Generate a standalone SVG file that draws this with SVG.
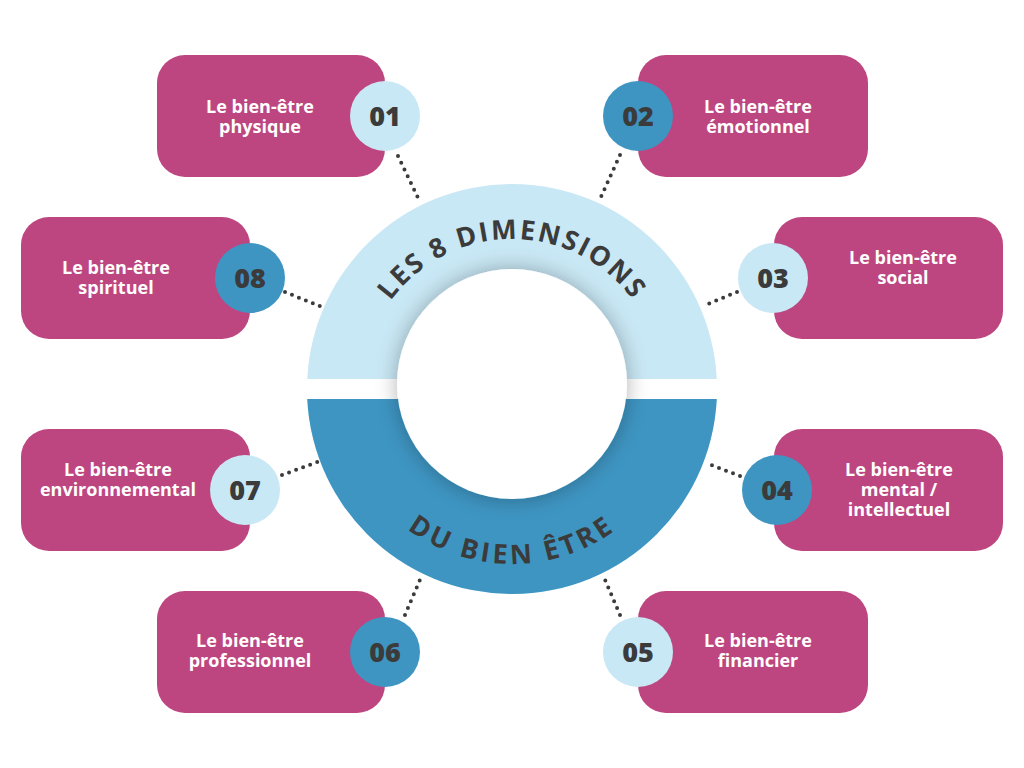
<svg xmlns="http://www.w3.org/2000/svg" width="1024" height="768" viewBox="0 0 1024 768">
<defs>
<style>
.box{fill:#BD4680}
.lt{fill:#C9E8F5}
.dk{fill:#3E95C2}
.lbl{font-family:"Open Sans","Liberation Sans",sans-serif;font-weight:700;font-size:18px;fill:#FFFFFF;text-anchor:middle}
.num{font-family:"Open Sans","Liberation Sans",sans-serif;font-weight:800;font-size:27px;fill:#3B3B3B;text-anchor:middle}
.arc{font-family:"Open Sans","Liberation Sans",sans-serif;font-weight:700;font-size:27px;fill:#3B3B3B}
.dot{fill:none;stroke:#3B3B3B;stroke-width:4;stroke-linecap:round;stroke-dasharray:0 7.5}
</style>
<filter id="sh" x="-30%" y="-30%" width="160%" height="160%">
<feGaussianBlur in="SourceAlpha" stdDeviation="11"/>
<feComponentTransfer><feFuncA type="linear" slope="0.3"/></feComponentTransfer>
<feMerge><feMergeNode/><feMergeNode in="SourceGraphic"/></feMerge>
</filter>
<path id="topArc" d="M 362,389 A 150,150 0 0,1 662,389"/>
<path id="botArc" d="M 337,389 A 175,175 0 0,0 687,389"/>
</defs>
<rect width="1024" height="768" fill="#FFFFFF"/>

<g id="connectors">
<line class="dot" x1="398" y1="156" x2="419" y2="200"/>
<line class="dot" x1="620" y1="155" x2="600" y2="199"/>
<line class="dot" x1="737" y1="292" x2="703" y2="306"/>
<line class="dot" x1="740" y1="476" x2="706" y2="463"/>
<line class="dot" x1="285" y1="292" x2="322" y2="307"/>
<line class="dot" x1="282" y1="475" x2="320" y2="461"/>
<line class="dot" x1="405" y1="615" x2="422" y2="575"/>
<line class="dot" x1="620" y1="615" x2="603" y2="575"/>
</g>

<g id="center">
<circle class="lt" cx="512" cy="389" r="205"/>
<path class="dk" d="M 307,389 A 205,205 0 0,0 717,389 Z"/>
<rect x="300" y="379" width="424" height="20" fill="#FFFFFF"/>
<circle cx="512" cy="384" r="115" fill="#FFFFFF" filter="url(#sh)"/>
<text class="arc" letter-spacing="2.2"><textPath href="#topArc" startOffset="50%" text-anchor="middle">LES 8 DIMENSIONS</textPath></text>
<text class="arc" letter-spacing="3.5"><textPath href="#botArc" startOffset="50%" text-anchor="middle">DU BIEN ÊTRE</textPath></text>
</g>

<g id="node1">
<rect class="box" x="157" y="55" width="228" height="122" rx="28"/>
<circle class="lt" cx="385" cy="116" r="35"/>
<text class="lbl" x="260" y="113">Le bien-être</text>
<text class="lbl" x="260" y="133">physique</text>
<text class="num" x="385" y="126">01</text>
</g>

<g id="node2">
<rect class="box" x="638" y="55" width="230" height="122" rx="28"/>
<circle class="dk" cx="638" cy="116" r="35"/>
<text class="lbl" x="758" y="113">Le bien-être</text>
<text class="lbl" x="758" y="133">émotionnel</text>
<text class="num" x="638" y="126">02</text>
</g>

<g id="node3">
<rect class="box" x="774" y="217" width="229" height="122" rx="28"/>
<circle class="lt" cx="773" cy="278" r="35"/>
<text class="lbl" x="903" y="264">Le bien-être</text>
<text class="lbl" x="903" y="284">social</text>
<text class="num" x="773" y="288">03</text>
</g>

<g id="node4">
<rect class="box" x="774" y="429" width="229" height="122" rx="28"/>
<circle class="dk" cx="777" cy="490" r="35"/>
<text class="lbl" x="899" y="476">Le bien-être</text>
<text class="lbl" x="899" y="496">mental /</text>
<text class="lbl" x="899" y="516">intellectuel</text>
<text class="num" x="777" y="500">04</text>
</g>

<g id="node5">
<rect class="box" x="638" y="591" width="230" height="122" rx="28"/>
<circle class="lt" cx="638" cy="652" r="35"/>
<text class="lbl" x="758" y="647">Le bien-être</text>
<text class="lbl" x="758" y="667">financier</text>
<text class="num" x="638" y="662">05</text>
</g>

<g id="node6">
<rect class="box" x="157" y="591" width="228" height="122" rx="28"/>
<circle class="dk" cx="385" cy="652" r="35"/>
<text class="lbl" x="250" y="647">Le bien-être</text>
<text class="lbl" x="250" y="667">professionnel</text>
<text class="num" x="385" y="662">06</text>
</g>

<g id="node7">
<rect class="box" x="21" y="429" width="229" height="122" rx="28"/>
<circle class="lt" cx="245" cy="490" r="35"/>
<text class="lbl" x="118" y="476">Le bien-être</text>
<text class="lbl" x="118" y="496">environnemental</text>
<text class="num" x="245" y="500">07</text>
</g>

<g id="node8">
<rect class="box" x="21" y="217" width="229" height="122" rx="28"/>
<circle class="dk" cx="250" cy="278" r="35"/>
<text class="lbl" x="116" y="274">Le bien-être</text>
<text class="lbl" x="116" y="294">spirituel</text>
<text class="num" x="250" y="288">08</text>
</g>
</svg>
